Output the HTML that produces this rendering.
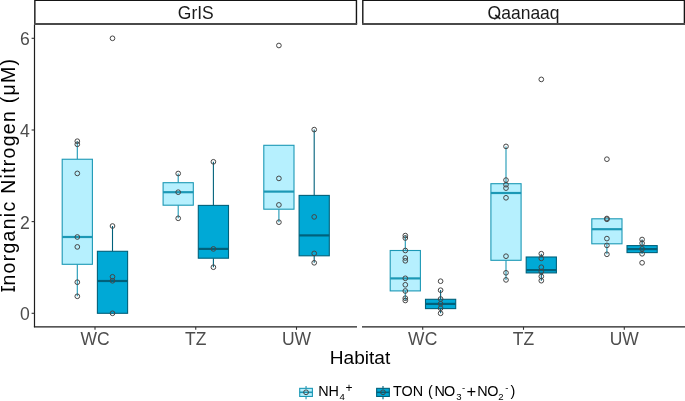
<!DOCTYPE html>
<html><head><meta charset="utf-8"><style>
html,body{margin:0;padding:0;background:#fff;}
svg{display:block;font-family:"Liberation Sans", sans-serif;will-change:transform;}
</style></head><body>
<svg width="685" height="401" viewBox="0 0 685 401">
<rect width="685" height="401" fill="#fff"/>
<line x1="77.3" y1="141.2" x2="77.3" y2="159.25" stroke="#1C98B5" stroke-width="1.1"/>
<line x1="77.3" y1="264.3" x2="77.3" y2="296.3" stroke="#1C98B5" stroke-width="1.1"/>
<rect x="62.20" y="159.25" width="30.20" height="105.05" fill="#B6F0FE" stroke="#1C98B5" stroke-width="1.1"/>
<line x1="62.20" y1="237.0" x2="92.40" y2="237.0" stroke="#1C98B5" stroke-width="2.2"/>
<line x1="112.5" y1="226.0" x2="112.5" y2="251.3" stroke="#00617B" stroke-width="1.1"/>
<line x1="112.5" y1="313.3" x2="112.5" y2="313.3" stroke="#00617B" stroke-width="1.1"/>
<rect x="97.40" y="251.3" width="30.20" height="62.00" fill="#00A9D6" stroke="#00617B" stroke-width="1.1"/>
<line x1="97.40" y1="281.0" x2="127.60" y2="281.0" stroke="#00617B" stroke-width="2.2"/>
<line x1="178.2" y1="173.5" x2="178.2" y2="182.7" stroke="#1C98B5" stroke-width="1.1"/>
<line x1="178.2" y1="205.2" x2="178.2" y2="218.3" stroke="#1C98B5" stroke-width="1.1"/>
<rect x="163.10" y="182.7" width="30.20" height="22.50" fill="#B6F0FE" stroke="#1C98B5" stroke-width="1.1"/>
<line x1="163.10" y1="192.2" x2="193.30" y2="192.2" stroke="#1C98B5" stroke-width="2.2"/>
<line x1="213.4" y1="161.8" x2="213.4" y2="205.4" stroke="#00617B" stroke-width="1.1"/>
<line x1="213.4" y1="258.2" x2="213.4" y2="267.2" stroke="#00617B" stroke-width="1.1"/>
<rect x="198.30" y="205.4" width="30.20" height="52.80" fill="#00A9D6" stroke="#00617B" stroke-width="1.1"/>
<line x1="198.30" y1="248.9" x2="228.50" y2="248.9" stroke="#00617B" stroke-width="2.2"/>
<line x1="278.9" y1="145.3" x2="278.9" y2="145.3" stroke="#1C98B5" stroke-width="1.1"/>
<line x1="278.9" y1="209.2" x2="278.9" y2="222.2" stroke="#1C98B5" stroke-width="1.1"/>
<rect x="263.80" y="145.3" width="30.20" height="63.90" fill="#B6F0FE" stroke="#1C98B5" stroke-width="1.1"/>
<line x1="263.80" y1="191.6" x2="294.00" y2="191.6" stroke="#1C98B5" stroke-width="2.2"/>
<line x1="314.2" y1="129.6" x2="314.2" y2="195.4" stroke="#00617B" stroke-width="1.1"/>
<line x1="314.2" y1="255.8" x2="314.2" y2="262.8" stroke="#00617B" stroke-width="1.1"/>
<rect x="299.10" y="195.4" width="30.20" height="60.40" fill="#00A9D6" stroke="#00617B" stroke-width="1.1"/>
<line x1="299.10" y1="235.4" x2="329.30" y2="235.4" stroke="#00617B" stroke-width="2.2"/>
<line x1="405.3" y1="235.6" x2="405.3" y2="250.5" stroke="#1C98B5" stroke-width="1.1"/>
<line x1="405.3" y1="290.9" x2="405.3" y2="300.5" stroke="#1C98B5" stroke-width="1.1"/>
<rect x="390.20" y="250.5" width="30.20" height="40.40" fill="#B6F0FE" stroke="#1C98B5" stroke-width="1.1"/>
<line x1="390.20" y1="278.4" x2="420.40" y2="278.4" stroke="#1C98B5" stroke-width="2.2"/>
<line x1="440.6" y1="290.0" x2="440.6" y2="299.3" stroke="#00617B" stroke-width="1.1"/>
<line x1="440.6" y1="308.6" x2="440.6" y2="313.3" stroke="#00617B" stroke-width="1.1"/>
<rect x="425.50" y="299.3" width="30.20" height="9.30" fill="#00A9D6" stroke="#00617B" stroke-width="1.1"/>
<line x1="425.50" y1="303.9" x2="455.70" y2="303.9" stroke="#00617B" stroke-width="2.2"/>
<line x1="506.0" y1="146.4" x2="506.0" y2="183.7" stroke="#1C98B5" stroke-width="1.1"/>
<line x1="506.0" y1="260.3" x2="506.0" y2="279.9" stroke="#1C98B5" stroke-width="1.1"/>
<rect x="490.90" y="183.7" width="30.20" height="76.60" fill="#B6F0FE" stroke="#1C98B5" stroke-width="1.1"/>
<line x1="490.90" y1="193.0" x2="521.10" y2="193.0" stroke="#1C98B5" stroke-width="2.2"/>
<line x1="541.3" y1="253.7" x2="541.3" y2="257.0" stroke="#00617B" stroke-width="1.1"/>
<line x1="541.3" y1="272.9" x2="541.3" y2="280.7" stroke="#00617B" stroke-width="1.1"/>
<rect x="526.20" y="257.0" width="30.20" height="15.90" fill="#00A9D6" stroke="#00617B" stroke-width="1.1"/>
<line x1="526.20" y1="270.1" x2="556.40" y2="270.1" stroke="#00617B" stroke-width="2.2"/>
<line x1="606.9" y1="218.8" x2="606.9" y2="218.8" stroke="#1C98B5" stroke-width="1.1"/>
<line x1="606.9" y1="243.8" x2="606.9" y2="254.3" stroke="#1C98B5" stroke-width="1.1"/>
<rect x="591.80" y="218.8" width="30.20" height="25.00" fill="#B6F0FE" stroke="#1C98B5" stroke-width="1.1"/>
<line x1="591.80" y1="229.2" x2="622.00" y2="229.2" stroke="#1C98B5" stroke-width="2.2"/>
<line x1="642.1" y1="239.5" x2="642.1" y2="245.6" stroke="#00617B" stroke-width="1.1"/>
<line x1="642.1" y1="252.6" x2="642.1" y2="253.8" stroke="#00617B" stroke-width="1.1"/>
<rect x="627.00" y="245.6" width="30.20" height="7.00" fill="#00A9D6" stroke="#00617B" stroke-width="1.1"/>
<line x1="627.00" y1="249.1" x2="657.20" y2="249.1" stroke="#00617B" stroke-width="2.2"/>
<circle cx="77.3" cy="141.2" r="2.35" fill="none" stroke="#464646" stroke-width="1.0"/>
<circle cx="77.3" cy="144.3" r="2.35" fill="none" stroke="#464646" stroke-width="1.0"/>
<circle cx="77.3" cy="173.4" r="2.35" fill="none" stroke="#464646" stroke-width="1.0"/>
<circle cx="77.3" cy="237.0" r="2.35" fill="none" stroke="#464646" stroke-width="1.0"/>
<circle cx="77.3" cy="246.9" r="2.35" fill="none" stroke="#464646" stroke-width="1.0"/>
<circle cx="77.3" cy="282.2" r="2.35" fill="none" stroke="#464646" stroke-width="1.0"/>
<circle cx="77.3" cy="296.3" r="2.35" fill="none" stroke="#464646" stroke-width="1.0"/>
<circle cx="112.5" cy="38.3" r="2.35" fill="none" stroke="#464646" stroke-width="1.0"/>
<circle cx="112.5" cy="226.0" r="2.35" fill="none" stroke="#464646" stroke-width="1.0"/>
<circle cx="112.5" cy="276.8" r="2.35" fill="none" stroke="#464646" stroke-width="1.0"/>
<circle cx="112.5" cy="280.8" r="2.35" fill="none" stroke="#464646" stroke-width="1.0"/>
<circle cx="112.5" cy="313.3" r="2.35" fill="none" stroke="#464646" stroke-width="1.0"/>
<circle cx="178.2" cy="173.5" r="2.35" fill="none" stroke="#464646" stroke-width="1.0"/>
<circle cx="178.2" cy="192.2" r="2.35" fill="none" stroke="#464646" stroke-width="1.0"/>
<circle cx="178.2" cy="218.3" r="2.35" fill="none" stroke="#464646" stroke-width="1.0"/>
<circle cx="213.4" cy="161.8" r="2.35" fill="none" stroke="#464646" stroke-width="1.0"/>
<circle cx="213.4" cy="248.9" r="2.35" fill="none" stroke="#464646" stroke-width="1.0"/>
<circle cx="213.4" cy="267.2" r="2.35" fill="none" stroke="#464646" stroke-width="1.0"/>
<circle cx="278.9" cy="45.5" r="2.35" fill="none" stroke="#464646" stroke-width="1.0"/>
<circle cx="278.9" cy="178.4" r="2.35" fill="none" stroke="#464646" stroke-width="1.0"/>
<circle cx="278.9" cy="204.9" r="2.35" fill="none" stroke="#464646" stroke-width="1.0"/>
<circle cx="278.9" cy="222.2" r="2.35" fill="none" stroke="#464646" stroke-width="1.0"/>
<circle cx="314.2" cy="129.6" r="2.35" fill="none" stroke="#464646" stroke-width="1.0"/>
<circle cx="314.2" cy="216.9" r="2.35" fill="none" stroke="#464646" stroke-width="1.0"/>
<circle cx="314.2" cy="253.4" r="2.35" fill="none" stroke="#464646" stroke-width="1.0"/>
<circle cx="314.2" cy="262.8" r="2.35" fill="none" stroke="#464646" stroke-width="1.0"/>
<circle cx="405.3" cy="235.6" r="2.35" fill="none" stroke="#464646" stroke-width="1.0"/>
<circle cx="405.3" cy="238.0" r="2.35" fill="none" stroke="#464646" stroke-width="1.0"/>
<circle cx="405.3" cy="250.5" r="2.35" fill="none" stroke="#464646" stroke-width="1.0"/>
<circle cx="405.3" cy="258.0" r="2.35" fill="none" stroke="#464646" stroke-width="1.0"/>
<circle cx="405.3" cy="260.8" r="2.35" fill="none" stroke="#464646" stroke-width="1.0"/>
<circle cx="405.3" cy="278.3" r="2.35" fill="none" stroke="#464646" stroke-width="1.0"/>
<circle cx="405.3" cy="284.8" r="2.35" fill="none" stroke="#464646" stroke-width="1.0"/>
<circle cx="405.3" cy="291.0" r="2.35" fill="none" stroke="#464646" stroke-width="1.0"/>
<circle cx="405.3" cy="298.2" r="2.35" fill="none" stroke="#464646" stroke-width="1.0"/>
<circle cx="405.3" cy="300.5" r="2.35" fill="none" stroke="#464646" stroke-width="1.0"/>
<circle cx="440.6" cy="281.2" r="2.35" fill="none" stroke="#464646" stroke-width="1.0"/>
<circle cx="440.6" cy="290.2" r="2.35" fill="none" stroke="#464646" stroke-width="1.0"/>
<circle cx="440.6" cy="299.0" r="2.35" fill="none" stroke="#464646" stroke-width="1.0"/>
<circle cx="440.6" cy="303.8" r="2.35" fill="none" stroke="#464646" stroke-width="1.0"/>
<circle cx="440.6" cy="308.2" r="2.35" fill="none" stroke="#464646" stroke-width="1.0"/>
<circle cx="440.6" cy="313.3" r="2.35" fill="none" stroke="#464646" stroke-width="1.0"/>
<circle cx="506.0" cy="146.4" r="2.35" fill="none" stroke="#464646" stroke-width="1.0"/>
<circle cx="506.0" cy="180.1" r="2.35" fill="none" stroke="#464646" stroke-width="1.0"/>
<circle cx="506.0" cy="184.7" r="2.35" fill="none" stroke="#464646" stroke-width="1.0"/>
<circle cx="506.0" cy="188.1" r="2.35" fill="none" stroke="#464646" stroke-width="1.0"/>
<circle cx="506.0" cy="197.8" r="2.35" fill="none" stroke="#464646" stroke-width="1.0"/>
<circle cx="506.0" cy="256.2" r="2.35" fill="none" stroke="#464646" stroke-width="1.0"/>
<circle cx="506.0" cy="272.8" r="2.35" fill="none" stroke="#464646" stroke-width="1.0"/>
<circle cx="506.0" cy="279.9" r="2.35" fill="none" stroke="#464646" stroke-width="1.0"/>
<circle cx="541.3" cy="79.4" r="2.35" fill="none" stroke="#464646" stroke-width="1.0"/>
<circle cx="541.3" cy="253.7" r="2.35" fill="none" stroke="#464646" stroke-width="1.0"/>
<circle cx="541.3" cy="258.4" r="2.35" fill="none" stroke="#464646" stroke-width="1.0"/>
<circle cx="541.3" cy="267.2" r="2.35" fill="none" stroke="#464646" stroke-width="1.0"/>
<circle cx="541.3" cy="271.6" r="2.35" fill="none" stroke="#464646" stroke-width="1.0"/>
<circle cx="541.3" cy="276.4" r="2.35" fill="none" stroke="#464646" stroke-width="1.0"/>
<circle cx="541.3" cy="280.7" r="2.35" fill="none" stroke="#464646" stroke-width="1.0"/>
<circle cx="606.9" cy="159.2" r="2.35" fill="none" stroke="#464646" stroke-width="1.0"/>
<circle cx="606.9" cy="218.5" r="2.35" fill="none" stroke="#464646" stroke-width="1.0"/>
<circle cx="606.9" cy="219.3" r="2.35" fill="none" stroke="#464646" stroke-width="1.0"/>
<circle cx="606.9" cy="238.6" r="2.35" fill="none" stroke="#464646" stroke-width="1.0"/>
<circle cx="606.9" cy="245.4" r="2.35" fill="none" stroke="#464646" stroke-width="1.0"/>
<circle cx="606.9" cy="254.3" r="2.35" fill="none" stroke="#464646" stroke-width="1.0"/>
<circle cx="642.1" cy="239.5" r="2.35" fill="none" stroke="#464646" stroke-width="1.0"/>
<circle cx="642.1" cy="243.2" r="2.35" fill="none" stroke="#464646" stroke-width="1.0"/>
<circle cx="642.1" cy="248.9" r="2.35" fill="none" stroke="#464646" stroke-width="1.0"/>
<circle cx="642.1" cy="253.8" r="2.35" fill="none" stroke="#464646" stroke-width="1.0"/>
<circle cx="642.1" cy="262.8" r="2.35" fill="none" stroke="#464646" stroke-width="1.0"/>
<line x1="34.5" y1="24.6" x2="34.5" y2="327.3" stroke="#1E1E1E" stroke-width="1.2"/>
<line x1="33.9" y1="326.9" x2="357" y2="326.9" stroke="#1E1E1E" stroke-width="1.2"/>
<line x1="362" y1="326.9" x2="685" y2="326.9" stroke="#1E1E1E" stroke-width="1.2"/>
<line x1="31.6" y1="313.3" x2="34.5" y2="313.3" stroke="#333" stroke-width="1.1"/>
<text x="29.75" y="320.30" text-anchor="end" font-size="17.6" fill="#4D4D4D">0</text>
<line x1="31.6" y1="221.6" x2="34.5" y2="221.6" stroke="#333" stroke-width="1.1"/>
<text x="29.75" y="228.60" text-anchor="end" font-size="17.6" fill="#4D4D4D">2</text>
<line x1="31.6" y1="130.0" x2="34.5" y2="130.0" stroke="#333" stroke-width="1.1"/>
<text x="29.75" y="137.00" text-anchor="end" font-size="17.6" fill="#4D4D4D">4</text>
<line x1="31.6" y1="38.3" x2="34.5" y2="38.3" stroke="#333" stroke-width="1.1"/>
<text x="29.75" y="45.30" text-anchor="end" font-size="17.6" fill="#4D4D4D">6</text>
<line x1="95.0" y1="326.9" x2="95.0" y2="329.8" stroke="#333" stroke-width="1.1"/>
<text x="95.0" y="344.6" text-anchor="middle" font-size="17.5" fill="#4D4D4D">WC</text>
<line x1="195.75" y1="326.9" x2="195.75" y2="329.8" stroke="#333" stroke-width="1.1"/>
<text x="195.75" y="344.6" text-anchor="middle" font-size="17.5" fill="#4D4D4D">TZ</text>
<line x1="296.5" y1="326.9" x2="296.5" y2="329.8" stroke="#333" stroke-width="1.1"/>
<text x="296.5" y="344.6" text-anchor="middle" font-size="17.5" fill="#4D4D4D">UW</text>
<line x1="422.7" y1="326.9" x2="422.7" y2="329.8" stroke="#333" stroke-width="1.1"/>
<text x="422.7" y="344.6" text-anchor="middle" font-size="17.5" fill="#4D4D4D">WC</text>
<line x1="523.5" y1="326.9" x2="523.5" y2="329.8" stroke="#333" stroke-width="1.1"/>
<text x="523.5" y="344.6" text-anchor="middle" font-size="17.5" fill="#4D4D4D">TZ</text>
<line x1="624.3" y1="326.9" x2="624.3" y2="329.8" stroke="#333" stroke-width="1.1"/>
<text x="624.3" y="344.6" text-anchor="middle" font-size="17.5" fill="#4D4D4D">UW</text>
<path d="M34.85,23.9 V0.35 H356.45 V23.9" fill="none" stroke="#151515" stroke-width="1.4"/>
<line x1="34.15" y1="23.9" x2="357.15" y2="23.9" stroke="#4A4A4A" stroke-width="2.0"/>
<path d="M362.8,23.9 V0.35 H684.4 V23.9" fill="none" stroke="#151515" stroke-width="1.4"/>
<line x1="362.1" y1="23.9" x2="685.1" y2="23.9" stroke="#4A4A4A" stroke-width="2.0"/>
<text transform="translate(195.8,18.75) scale(1,1.04)" text-anchor="middle" font-size="17.5" fill="#1A1A1A">GrIS</text>
<clipPath id="qc"><rect x="480" y="0" width="30" height="19.6"/></clipPath>
<g clip-path="url(#qc)"><text transform="translate(487.6,18.75) scale(1,1.04)" font-size="17.5" fill="#1A1A1A">Q</text></g>
<line x1="495.2" y1="15.0" x2="500.4" y2="18.8" stroke="#1A1A1A" stroke-width="1.55"/>
<text transform="translate(501.21,18.75) scale(1,1.04)" font-size="17.5" fill="#1A1A1A">aanaaq</text>
<text x="360" y="363.5" text-anchor="middle" font-size="19.1" fill="#000">Habitat</text>
<text transform="translate(14.7,175.6) rotate(-90)" x="0" y="0" text-anchor="middle" font-size="19.5" fill="#000" textLength="233.3" lengthAdjust="spacing">Inorganic Nitrogen (μM)</text>
<rect x="1.0" y="286.0" width="1.3" height="5.6" fill="#000"/><rect x="13.4" y="286.0" width="1.4" height="5.6" fill="#000"/>
<line x1="306.05" y1="386.0" x2="306.05" y2="399.3" stroke="#1C98B5" stroke-width="1.1"/>
<rect x="299.70" y="388.35" width="12.7" height="8.1" fill="#B6F0FE" stroke="#1C98B5" stroke-width="1.1"/>
<line x1="299.70" y1="392.3" x2="312.40" y2="392.3" stroke="#1C98B5" stroke-width="1.6"/>
<circle cx="306.05" cy="392.3" r="2.4" fill="none" stroke="#464646" stroke-width="1.0"/>
<line x1="383.0" y1="386.0" x2="383.0" y2="399.3" stroke="#00617B" stroke-width="1.1"/>
<rect x="376.65" y="388.35" width="12.7" height="8.1" fill="#00A9D6" stroke="#00617B" stroke-width="1.1"/>
<line x1="376.65" y1="392.3" x2="389.35" y2="392.3" stroke="#00617B" stroke-width="1.6"/>
<circle cx="383.0" cy="392.3" r="2.4" fill="none" stroke="#464646" stroke-width="1.0"/>
<text transform="translate(318.22,396.4) scale(1,1.07)" font-size="14.4" fill="#000">NH</text>
<text transform="translate(339.40,399.5) scale(1,1)" font-size="9.6" fill="#000">4</text>
<text transform="translate(345.41,392.3) scale(1,1)" font-size="12" fill="#000">+</text>
<text transform="translate(393.08,396.4) scale(1,1.07)" font-size="14.4" fill="#000">TON</text>
<text transform="translate(428.00,396.4) scale(1,1.07)" font-size="14.4" fill="#000">(</text>
<text transform="translate(434.62,396.4) scale(1,1.07)" font-size="14.4" fill="#000">N</text>
<text transform="translate(444.02,396.4) scale(1,1.07)" font-size="14.4" fill="#000">O</text>
<text transform="translate(456.20,399.5) scale(1,1)" font-size="9.6" fill="#000">3</text>
<text transform="translate(462.06,390.6) scale(1,1)" font-size="9.6" fill="#000">-</text>
<text transform="translate(466.40,397.1) scale(1,1)" font-size="16.5" fill="#000">+</text>
<text transform="translate(477.27,396.4) scale(1,1.07)" font-size="14.4" fill="#000">N</text>
<text transform="translate(487.17,396.4) scale(1,1.07)" font-size="14.4" fill="#000">O</text>
<text transform="translate(498.20,399.5) scale(1,1)" font-size="9.6" fill="#000">2</text>
<text transform="translate(505.36,390.6) scale(1,1)" font-size="9.6" fill="#000">-</text>
<text transform="translate(510.50,396.4) scale(1,1.07)" font-size="14.4" fill="#000">)</text>
</svg>
</body></html>
